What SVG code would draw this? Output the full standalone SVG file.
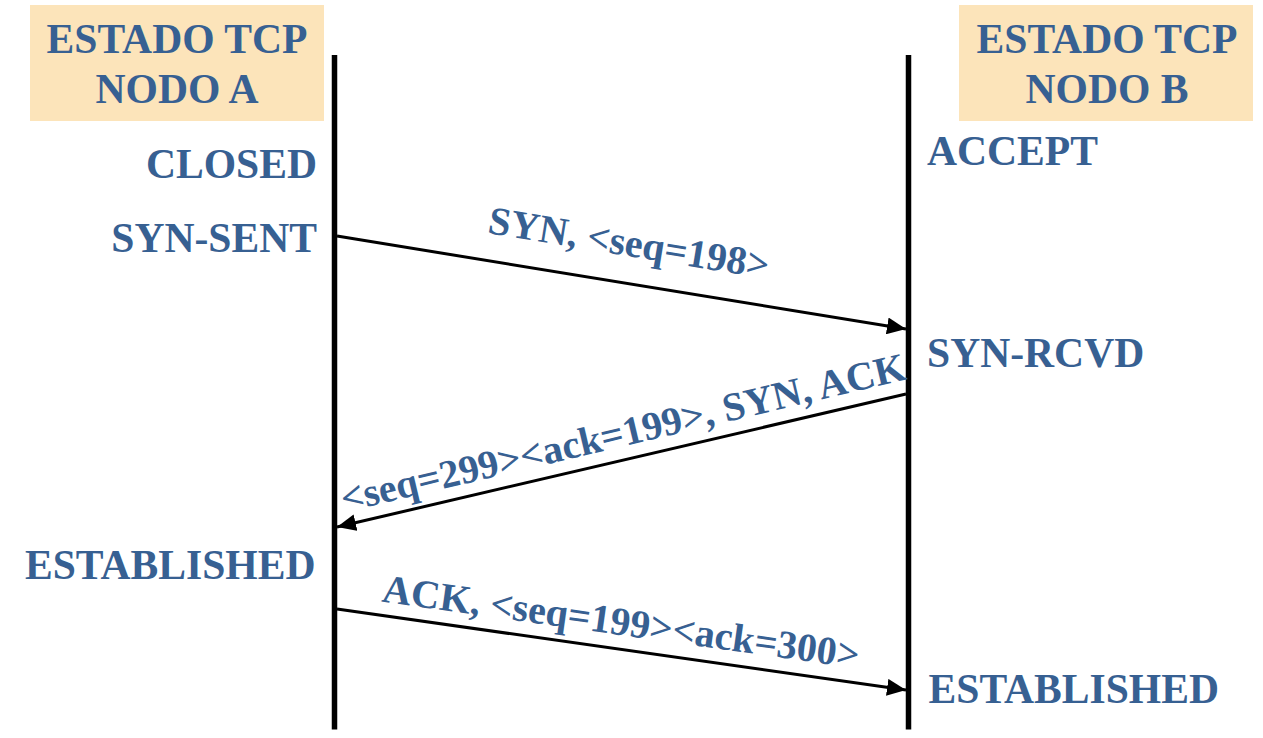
<svg xmlns="http://www.w3.org/2000/svg" width="1263" height="738" viewBox="0 0 1263 738">
<style>
.t{font-family:"Liberation Serif","Times New Roman",serif;font-weight:bold;font-size:41.6px;fill:#376092}
.m{font-size:40px}
.box{fill:#FCE4BA}
.life{stroke:#000;stroke-width:5.5}
.msg{stroke:#000;stroke-width:3;fill:none}
</style>
<defs>
<marker id="ah" markerUnits="userSpaceOnUse" viewBox="0 0 19 17" refX="19" refY="8.5" markerWidth="19" markerHeight="17" orient="auto">
<path d="M0,0 L19,8.5 L0,17 z" fill="#000"/>
</marker>
</defs>
<rect width="1263" height="738" fill="#fff"/>
<g id="nodeA">
<rect class="box" x="30" y="5" width="294" height="116"/>
<text class="t" x="177" y="53" text-anchor="middle">ESTADO TCP</text>
<text class="t" x="177" y="103" text-anchor="middle">NODO A</text>
<line class="life" x1="334.5" y1="55" x2="334.5" y2="729.5"/>
</g>
<g id="nodeB">
<rect class="box" x="959" y="5" width="294" height="116"/>
<text class="t" x="1107" y="53" text-anchor="middle">ESTADO TCP</text>
<text class="t" x="1107" y="103" text-anchor="middle">NODO B</text>
<line class="life" x1="908.5" y1="55" x2="908.5" y2="729.5"/>
</g>
<g id="statesA">
<text class="t" x="317" y="178" text-anchor="end">CLOSED</text>
<text class="t" x="317" y="252" text-anchor="end">SYN-SENT</text>
<text class="t" x="315.5" y="578.5" text-anchor="end">ESTABLISHED</text>
</g>
<g id="statesB">
<text class="t" x="927" y="165">ACCEPT</text>
<text class="t" x="927" y="367">SYN-RCVD</text>
<text class="t" x="928.5" y="703">ESTABLISHED</text>
</g>
<g id="connectors">
<line class="msg" x1="337" y1="236" x2="906" y2="329" marker-end="url(#ah)"/>
<line class="msg" x1="906" y1="394" x2="337" y2="527" marker-end="url(#ah)"/>
<line class="msg" x1="337" y1="609" x2="906" y2="690" marker-end="url(#ah)"/>
<text class="t m" transform="translate(629,243) rotate(9.3)" y="13" text-anchor="middle">SYN, &lt;seq=198&gt;</text>
<text class="t m" transform="translate(623,433) rotate(-13.3)" y="13" text-anchor="middle">&lt;seq=299&gt;&lt;ack=199&gt;, SYN, ACK</text>
<text class="t m" transform="translate(621,622) rotate(8)" y="13" text-anchor="middle">ACK, &lt;seq=199&gt;&lt;ack=300&gt;</text>
</g>
</svg>
